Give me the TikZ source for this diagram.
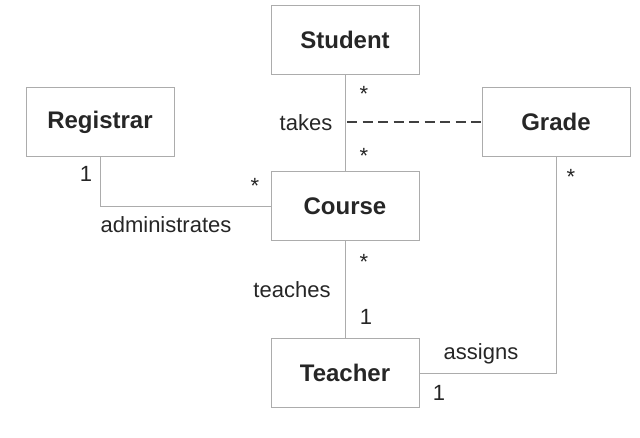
\documentclass[tikz,border=0pt]{standalone}
\usepackage{fontspec}
\setmainfont{Liberation Sans}
\usetikzlibrary{positioning}

\begin{document}
\begin{tikzpicture}[x=1pt, y=-1pt,
		classbox/.style={rectangle, draw=gray!65, line width=0.9pt, minimum width=148pt, minimum height=69pt, text=black!85, font=\fontsize{24}{28}\selectfont\bfseries},
		assoc/.style={draw=gray!65, line width=0.9pt},
		lbl/.style={inner sep=0pt, text=black!85, font=\fontsize{22}{26}\selectfont}
	]
	\useasboundingbox (0,0) rectangle (640,437);

	\node (student)   [classbox] at (345,40)  {Student};
	\node (registrar) [classbox] at (100,122) {Registrar};
	\node (grade)     [classbox] at (556,122) {Grade};
	\node (course)    [classbox] at (345,206) {Course};
	\node (teacher)   [classbox] at (345,373) {Teacher};

	\coordinate (takesjoin) at (student.south |- grade.west);

	\draw [assoc] (student) -- (course);
	\draw [draw=black!75, line width=1.3pt, dash pattern=on 10pt off 5.5pt] (takesjoin) ++(2,0) -- (grade.west);
	\draw [assoc] (registrar.south) |- (course.west);
	\draw [assoc] (course) -- (teacher);
	\draw [assoc] (grade.south) |- (teacher.east);

	% multiplicities and role names
	\node (m1) [lbl] at (364,94)  {*};
	\node (takes) [lbl] at (306,123) {takes};
	\node (m2) [lbl] at (364,156) {*};
	\node (m3) [lbl] at (86,174)  {1};
	\node (m4) [lbl] at (255,186) {*};
	\node (admin) [lbl] at (166,225) {administrates};
	\node (m5) [lbl] at (571,177) {*};
	\node (m6) [lbl] at (364,262) {*};
	\node (teaches) [lbl] at (292,290) {teaches};
	\node (m7) [lbl] at (366,317) {1};
	\node (assigns) [lbl] at (481,354) {assigns};
	\node (m8) [lbl] at (439,393) {1};

\end{tikzpicture}
\end{document}
